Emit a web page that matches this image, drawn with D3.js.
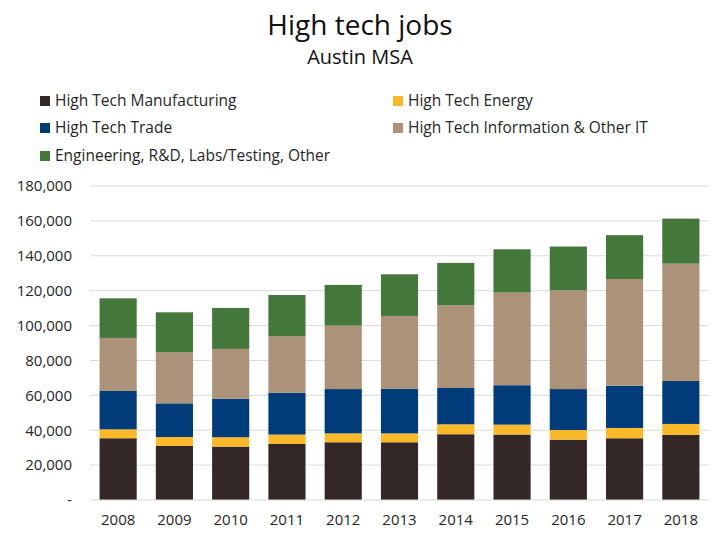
<!DOCTYPE html>
<html><head><meta charset="utf-8">
<script src="https://cdn.jsdelivr.net/npm/d3@7"></script>
<style>body{margin:0;background:#fff}svg{display:block}text{font-family:"Open Sans",sans-serif}</style>
</head><body><svg id="c" width="720" height="540"></svg>
<script>
const years = ["2008","2009","2010","2011","2012","2013","2014","2015","2016","2017","2018"];
const seriesNames = ["High Tech Manufacturing","High Tech Energy","High Tech Trade","High Tech Information & Other IT","Engineering, R&D, Labs/Testing, Other"];
const manufacturing = [35400,31000,30600,32100,33100,33100,37700,37500,34600,35400,37300];
const energy        = [5100,5100,5400,5400,5100,5100,5700,5700,5500,5900,6300];
const trade         = [22000,19300,22100,23900,25400,25600,20800,22600,23500,24200,24600];
const information   = [30400,29300,28500,32500,36400,41700,47400,53100,56600,61200,67300];
const engineering   = [22700,22900,23500,23600,23300,23900,24300,24800,25100,25100,25800];
const yTicks = [0,20000,40000,60000,80000,100000,120000,140000,160000,180000];
const colors = ["#332727","#FBB829","#003C7A","#AD927A","#44773A"];

const svg = d3.select("#c");
const keys = ["m","e","t","i","g"];
const data = years.map((y,i)=>({year:y,m:manufacturing[i],e:energy[i],t:trade[i],i:information[i],g:engineering[i]}));
const stack = d3.stack().keys(keys)(data);

const x = d3.scaleBand().domain(years).range([90,709]).paddingInner(0.34).paddingOuter(0.17);
const y = d3.scaleLinear().domain([0,180000]).range([500,186]);

svg.append("g").selectAll("line").data(yTicks.slice(1)).join("line")
  .attr("x1",90).attr("x2",709).attr("y1",d=>y(d)).attr("y2",d=>y(d))
  .attr("stroke","#d9d9d9").attr("stroke-width",1);

svg.append("g").selectAll("g").data(stack).join("g")
  .attr("fill",(d,i)=>colors[i])
  .selectAll("rect").data(d=>d).join("rect")
  .attr("x",d=>x(d.data.year)).attr("width",x.bandwidth())
  .attr("y",d=>y(d[1])).attr("height",d=>y(d[0])-y(d[1]));

svg.append("line").attr("x1",90).attr("x2",709).attr("y1",y(0)).attr("y2",y(0)).attr("stroke","#d9d9d9");

const ya = svg.append("g").attr("transform","translate(80,0)")
  .call(d3.axisLeft(y).tickValues(yTicks).tickSize(0).tickPadding(8)
    .tickFormat(d=>d===0?"-":d3.format(",")(d)));
ya.select(".domain").remove();
ya.selectAll("text").attr("font-size",15).attr("fill","#262626").attr("font-family","Open Sans, sans-serif");

const xa = svg.append("g").attr("transform","translate(0,"+y(0)+")")
  .call(d3.axisBottom(x).tickSize(0).tickPadding(14));
xa.select(".domain").remove();
xa.selectAll("text").attr("font-size",15).attr("fill","#262626").attr("font-family","Open Sans, sans-serif");

svg.append("text").attr("x",360).attr("y",35).attr("text-anchor","middle").attr("font-size",28).attr("fill","#111").text("High tech jobs");
svg.append("text").attr("x",360).attr("y",64).attr("text-anchor","middle").attr("font-size",20).attr("fill","#111").text("Austin MSA");

const legPos = [[40,101],[393,101],[40,128],[393,128],[40,156]];
const order = [0,1,2,3,4];
const lg = svg.append("g").selectAll("g").data(order).join("g")
  .attr("transform",d=>`translate(${legPos[d][0]},${legPos[d][1]})`);
lg.append("rect").attr("x",0).attr("y",-5).attr("width",10).attr("height",10).attr("fill",d=>colors[d]);
lg.append("text").attr("x",15).attr("y",0).attr("dy","0.35em").attr("font-size",15.5).attr("fill","#262626").text(d=>seriesNames[d]);
</script></body></html>
